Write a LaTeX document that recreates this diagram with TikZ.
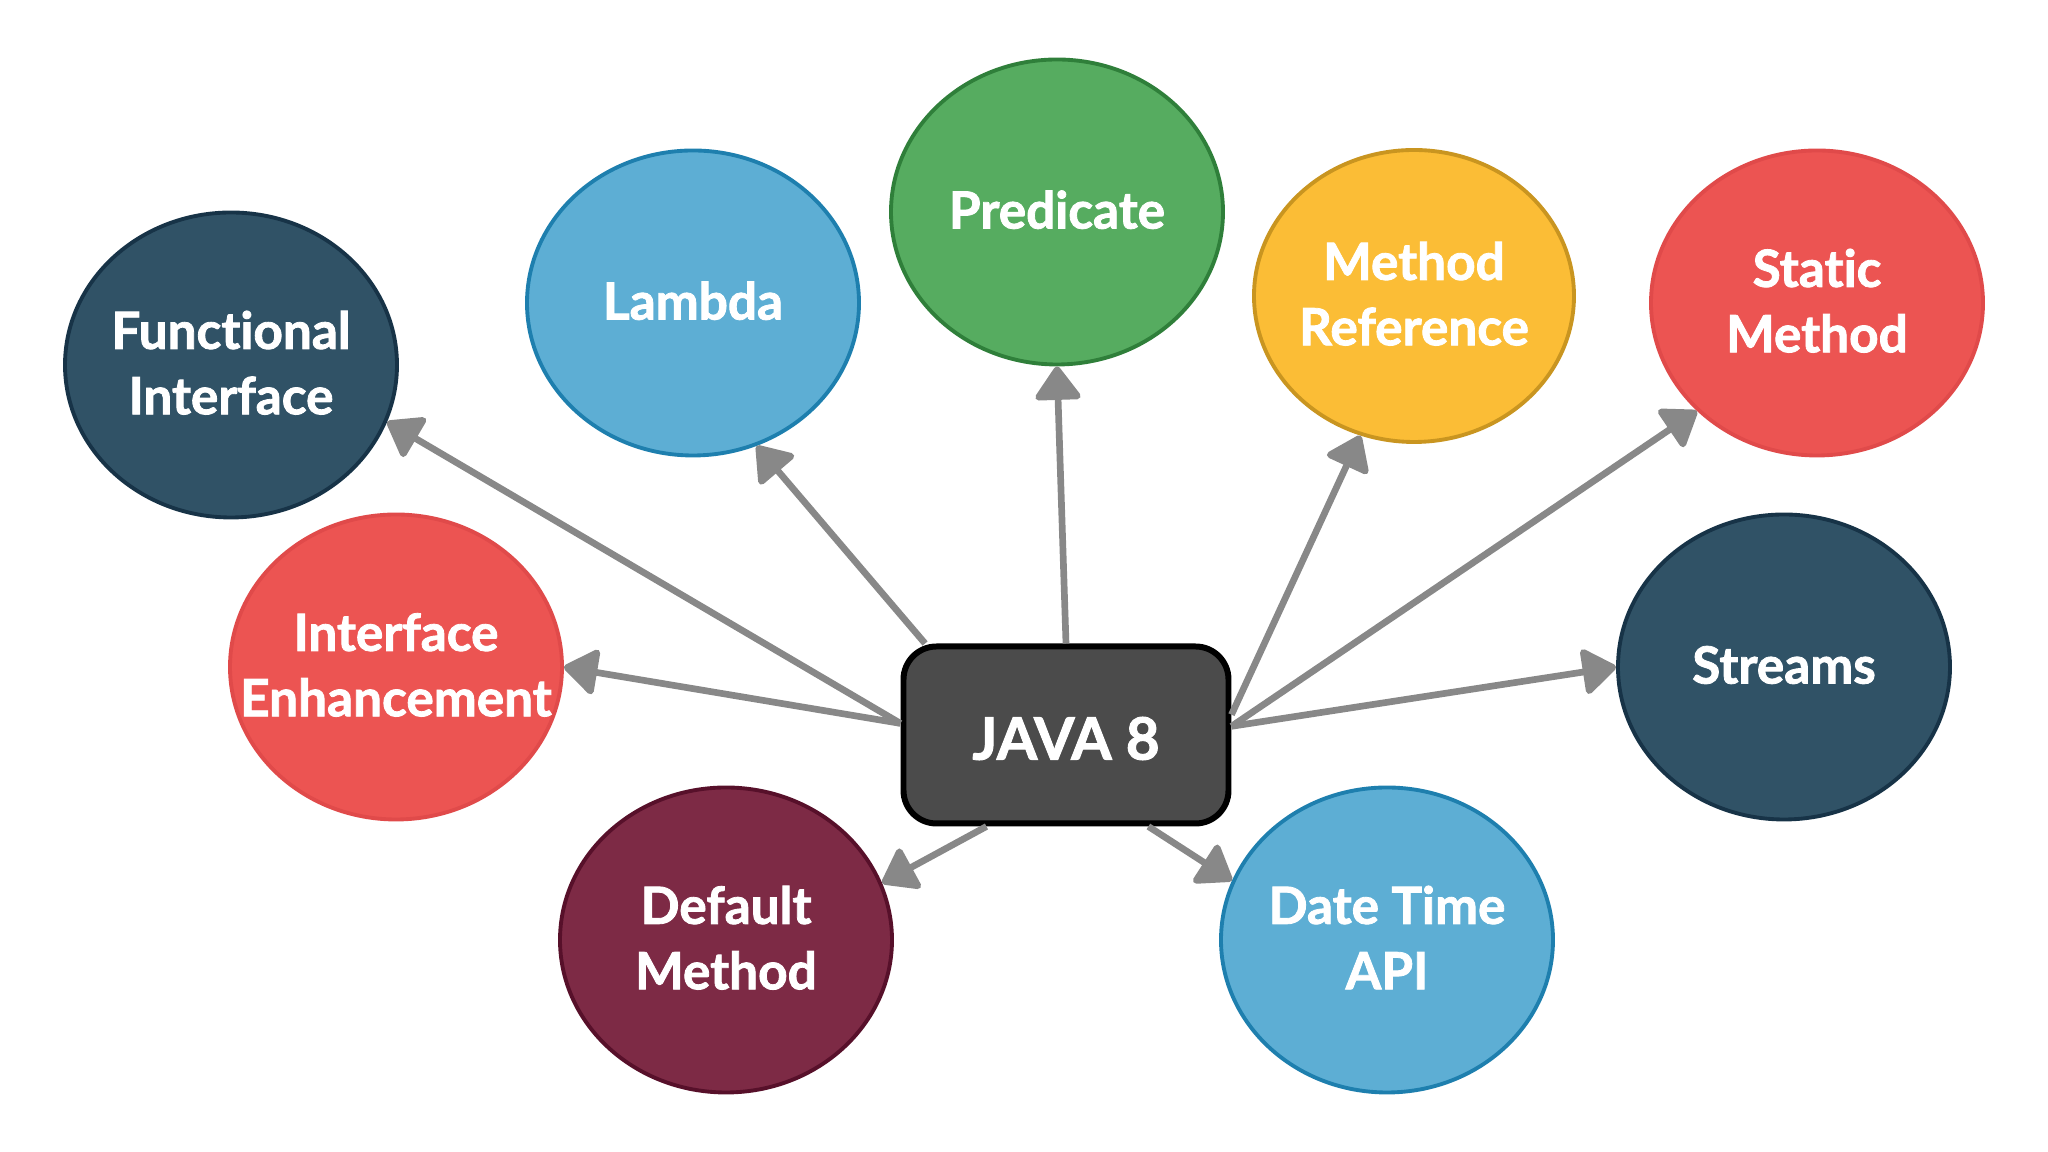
\documentclass[tikz,border=0pt]{standalone}
\usepackage{fontspec}
\setmainfont{Lato}[Ligatures=NoCommon, BoldFeatures={FakeBold=1.6}]
\usepackage{tikz}
\usetikzlibrary{shapes.geometric}
\usetikzlibrary{arrows.meta}
\definecolor{tealdark}{HTML}{305266}
\definecolor{tealedge}{HTML}{173347}
\definecolor{skyblue}{HTML}{5DAED4}
\definecolor{skyedge}{HTML}{1E7FAE}
\definecolor{leafgreen}{HTML}{56AC60}
\definecolor{leafedge}{HTML}{2F7F3A}
\definecolor{sunyellow}{HTML}{FBBD36}
\definecolor{sunedge}{HTML}{C99520}
\definecolor{coral}{HTML}{EC5452}
\definecolor{coraledge}{HTML}{E04A4A}
\definecolor{wine}{HTML}{7D2A45}
\definecolor{wineedge}{HTML}{57102A}
\definecolor{boxgray}{HTML}{4B4B4B}
\definecolor{arrowgray}{HTML}{888888}
\newcommand{\lowered}[1]{\raisebox{-1pt}[\height][\depth]{#1}}
\newcommand{\bubtext}[1]{\lowered{\makebox[0pt]{\begin{tabular}{@{}c@{}}#1\end{tabular}}}}

\begin{document}
\begin{tikzpicture}[
    bubble/.style={ellipse, minimum width=3.32cm, minimum height=3.05cm, inner sep=0pt,
      line width=1.1pt, text=white, font=\fontsize{14.6}{18.6}\selectfont\bfseries},
    feature/.style 2 args={bubble, fill=#1, draw=#2},
    link/.style={arrowgray, line width=1.9pt,
      -{Triangle[width=0.5cm, length=0.36cm, round]}}
  ]
  \useasboundingbox (0,0) rectangle (20.48,11.52);
  \node[draw=black, fill=boxgray, line width=1.7pt, rounded corners=0.33cm,
    minimum width=3.25cm, minimum height=1.77cm, text=white,
    font=\fontsize{16.6}{20}\selectfont\bfseries] (java) at (10.66,4.17) {\lowered{JAVA 8}};

  \node[feature={tealdark}{tealedge}]   (func)     at (2.31,7.87)  {\bubtext{Functional\\Interface}};
  \node[feature={skyblue}{skyedge}]     (lambda)   at (6.93,8.49)  {\bubtext{Lambda}};
  \node[feature={leafgreen}{leafedge}]  (pred)     at (10.57,9.40) {\bubtext{Predicate}};
  \node[feature={sunyellow}{sunedge}, minimum width=3.2cm, minimum height=2.92cm]
                                        (mref)     at (14.14,8.56) {\bubtext{Method\\Reference}};
  \node[feature={coral}{coraledge}]     (static)   at (18.17,8.49) {\bubtext{Static\\Method}};
  \node[feature={coral}{coraledge}]     (ienh)     at (3.96,4.85)  {\bubtext{Interface\\Enhancement}};
  \node[feature={tealdark}{tealedge}]   (streams)  at (17.84,4.85) {\bubtext{Streams}};
  \node[feature={wine}{wineedge}]       (defm)     at (7.26,2.12)  {\bubtext{Default\\Method}};
  \node[feature={skyblue}{skyedge}]     (datetime) at (13.87,2.12) {\bubtext{Date Time\\API}};

  \draw[link] (java.176.5) -- (func.-20.3);
  \draw[link] (java.176.5) -- (ienh.east);
  \draw[link] (java.147.4) -- (lambda.-66.3);
  \draw[link] (java.north) -- (pred.south);
  \draw[link] (java.7.8) -- (mref.-111);
  \draw[link] (java.3.4) -- (static.-138);
  \draw[link] (java.3.4) -- (streams.west);
  \draw[link] (java.-131) -- (defm.20.2);
  \draw[link] (java.-48.6) -- (datetime.159.8);
\end{tikzpicture}
\end{document}
